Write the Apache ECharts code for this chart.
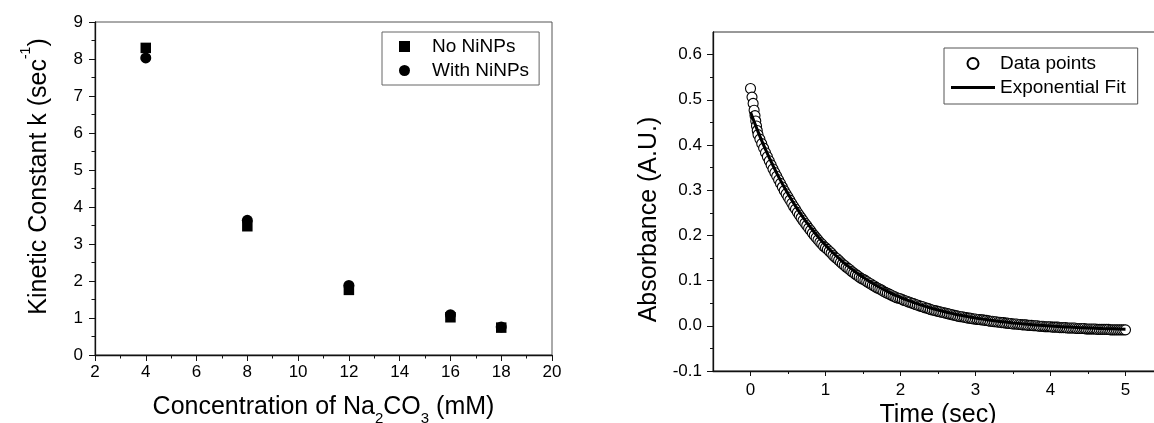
<!DOCTYPE html>
<html><head><meta charset="utf-8">
<script src="https://cdn.jsdelivr.net/npm/echarts@6/dist/echarts.min.js"></script>
<style>html,body{margin:0;padding:0;background:#fff}#c{width:1154px;height:423px}</style>
</head><body><div id="c"></div>
<script>
// ---- Left panel data ----
const concentration = [4, 8, 12, 16, 18];
const kNoNiNPs = [8.30, 3.48, 1.76, 1.02, 0.74];
const kWithNiNPs = [8.03, 3.64, 1.88, 1.09, 0.76];

// ---- Right panel data ----
const timePoints = [
 0,0.02,0.035,0.048,0.06,0.07,0.08,0.09, 0.1,0.125,0.15,0.175, 0.2,0.225,0.25,0.275, 0.3,0.325,0.35,0.375, 0.4,0.425,0.45,0.475,
 0.5,0.525,0.55,0.575, 0.6,0.625,0.65,0.675, 0.7,0.725,0.75,0.775, 0.8,0.825,0.85,0.875, 0.9,0.925,0.95,0.975,
 1.0,1.025,1.05,1.075, 1.1,1.125,1.15,1.175, 1.2,1.225,1.25,1.275, 1.3,1.325,1.35,1.375, 1.4,1.425,1.45,1.475,
 1.5,1.525,1.55,1.575, 1.6,1.625,1.65,1.675, 1.7,1.725,1.75,1.775, 1.8,1.825,1.85,1.875, 1.9,1.925,1.95,1.975,
 2.0,2.025,2.05,2.075, 2.1,2.125,2.15,2.175, 2.2,2.225,2.25,2.275, 2.3,2.325,2.35,2.375, 2.4,2.425,2.45,2.475,
 2.5,2.525,2.55,2.575, 2.6,2.625,2.65,2.675, 2.7,2.725,2.75,2.775, 2.8,2.825,2.85,2.875, 2.9,2.925,2.95,2.975,
 3.0,3.025,3.05,3.075, 3.1,3.125,3.15,3.175, 3.2,3.225,3.25,3.275, 3.3,3.325,3.35,3.375, 3.4,3.425,3.45,3.475,
 3.5,3.525,3.55,3.575, 3.6,3.625,3.65,3.675, 3.7,3.725,3.75,3.775, 3.8,3.825,3.85,3.875, 3.9,3.925,3.95,3.975,
 4.0,4.025,4.05,4.075, 4.1,4.125,4.15,4.175, 4.2,4.225,4.25,4.275, 4.3,4.325,4.35,4.375, 4.4,4.425,4.45,4.475,
 4.5,4.525,4.55,4.575, 4.6,4.625,4.65,4.675, 4.7,4.725,4.75,4.775, 4.8,4.825,4.85,4.875, 4.9,4.925,4.95,4.975,
 5.0
];
const absorbanceData = [
 0.525,0.506,0.492,0.477,0.465,0.453,0.442,0.432, 0.423,0.413,0.403,0.393, 0.383,0.374,0.365,0.356, 0.347,0.339,0.331,0.323, 0.315,0.307,0.299,0.292,
 0.285,0.278,0.271,0.264, 0.258,0.251,0.245,0.239, 0.233,0.227,0.222,0.216, 0.211,0.205,0.200,0.195, 0.190,0.185,0.181,0.176,
 0.173,0.169,0.165,0.161, 0.156,0.152,0.149,0.145, 0.141,0.137,0.134,0.130, 0.127,0.124,0.120,0.117, 0.114,0.111,0.108,0.105,
 0.103,0.101,0.098,0.095, 0.093,0.090,0.088,0.085, 0.083,0.081,0.079,0.076, 0.074,0.072,0.070,0.068, 0.066,0.064,0.062,0.061,
 0.060,0.058,0.056,0.055, 0.053,0.052,0.050,0.049, 0.047,0.046,0.044,0.043, 0.042,0.040,0.039,0.038, 0.036,0.035,0.034,0.033,
 0.032,0.031,0.030,0.029, 0.028,0.027,0.026,0.025, 0.024,0.023,0.022,0.021, 0.020,0.020,0.019,0.018, 0.017,0.017,0.016,0.015,
 0.015,0.014,0.014,0.013, 0.013,0.012,0.012,0.011, 0.010,0.010,0.009,0.009, 0.008,0.008,0.007,0.007, 0.006,0.006,0.005,0.005,
 0.004,0.004,0.004,0.003, 0.003,0.002,0.002,0.002, 0.001,0.001,0.001,0.000, 0.000,0.000,-0.001,-0.001, -0.001,-0.002,-0.002,-0.002,
 -0.002,-0.003,-0.003,-0.003, -0.003,-0.004,-0.004,-0.004, -0.004,-0.005,-0.005,-0.005, -0.005,-0.005,-0.006,-0.006, -0.006,-0.006,-0.006,-0.007,
 -0.007,-0.007,-0.007,-0.007, -0.007,-0.008,-0.008,-0.008, -0.008,-0.008,-0.008,-0.008, -0.009,-0.009,-0.009,-0.009, -0.009,-0.009,-0.009,-0.009,
 -0.009
];
const fitTime = [0,0.1,0.2,0.3,0.4,0.5,0.6,0.7,0.8,0.9,1.0,1.1,1.2,1.3,1.4,1.5,1.6,1.7,1.8,1.9,2.0,2.1,2.2,2.3,2.4,2.5,2.6,2.7,2.8,2.9,
 3.0,3.1,3.2,3.3,3.4,3.5,3.6,3.7,3.8,3.9,4.0,4.1,4.2,4.3,4.4,4.5,4.6,4.7,4.8,4.9,5.0];
const absorbanceFit = [0.4730,0.4297,0.3903,0.3544,0.3217,0.2919,0.2648,0.2401,0.2176,0.1971,0.1785,0.1615,0.1460,0.1319,0.1191,
 0.1074,0.0967,0.0870,0.0782,0.0701,0.0628,0.0561,0.0501,0.0445,0.0395,0.0349,0.0307,0.0269,0.0234,0.0203,0.0174,0.0148,0.0124,
 0.0102,0.0082,0.0064,0.0048,0.0033,0.0019,0.0007,-0.0005,-0.0015,-0.0024,-0.0033,-0.0041,-0.0048,-0.0054,-0.0060,-0.0065,-0.0070,-0.0075];

const timeMajorTicks = [0, 1, 2, 3, 4, 5];
const timeMinorTicks = [0.5, 1.5, 2.5, 3.5, 4.5];
const absMajorTicks = [-0.1, 0, 0.1, 0.2, 0.3, 0.4, 0.5, 0.6];
const absMinorTicks = [-0.05, 0.05, 0.15, 0.25, 0.35, 0.45, 0.55];

const FONT = "'Liberation Sans', Arial, sans-serif";
const AX = '#111';
const TXT = '#000';
const pairs = (xs, ys) => xs.map((x, i) => [x, ys[i]]);

const chart = echarts.init(document.getElementById('c'), null, {renderer: 'canvas'});
const baseAxis = {
  type: 'value',
  axisLine: {show: true, onZero: false, lineStyle: {color: AX, width: 1.3}},
  axisTick: {show: true, inside: false, length: 6, lineStyle: {color: AX, width: 1}},
  splitLine: {show: false},
  axisLabel: {fontSize: 17, color: TXT, fontFamily: FONT},
  nameMoveOverlap: false
};
const nameRichN = {fontSize: 25, fontFamily: FONT, color: TXT, lineHeight: 30, verticalAlign: 'middle'};
const option = {
  backgroundColor: '#ffffff',
  animation: false,
  textStyle: {fontFamily: FONT},
  grid: [
    {left: 95, top: 22, width: 457, height: 333, show: true, borderColor: '#555', borderWidth: 1, containLabel: false, outerBoundsMode: 'none'},
    {left: 713, top: 32, width: 450, height: 339, show: true, borderColor: '#333', borderWidth: 1, containLabel: false, outerBoundsMode: 'none'}
  ],
  xAxis: [
    Object.assign({}, baseAxis, {
      gridIndex: 0, min: 2, max: 20, interval: 2, position: 'bottom',
      minorTick: {show: true, splitNumber: 2, length: 3.5, lineStyle: {color: AX}},
      axisLabel: Object.assign({}, baseAxis.axisLabel, {margin: 9}),
      name: '{n|Concentration of Na}{s|2}{n|CO}{s|3}{n| (mM)}',
      nameLocation: 'middle', nameGap: 37,
      nameTextStyle: {fontFamily: FONT, color: TXT, rich: {
        n: nameRichN,
        s: {fontSize: 15, fontFamily: FONT, color: TXT, lineHeight: 15, verticalAlign: 'middle', padding: [24, 0, 0, 0]}
      }}
    }),
    Object.assign({}, baseAxis, {
      gridIndex: 1, min: -0.5, max: 5.5, position: 'bottom',
      axisTick: {show: true, inside: false, length: 5, customValues: timeMajorTicks, lineStyle: {color: AX}},
      axisLabel: Object.assign({}, baseAxis.axisLabel, {margin: 11, customValues: timeMajorTicks, formatter: v => String(v)}),
      name: 'Time (sec)', nameLocation: 'middle', nameGap: 32,
      nameTextStyle: {fontSize: 25, color: TXT, fontFamily: FONT}
    }),
    {
      type: 'value', gridIndex: 1, min: -0.5, max: 5.5, position: 'bottom',
      axisLine: {show: false, onZero: false},
      axisTick: {show: true, inside: false, length: 3, customValues: timeMinorTicks, lineStyle: {color: AX}},
      axisLabel: {show: false}, splitLine: {show: false}
    }
  ],
  yAxis: [
    Object.assign({}, baseAxis, {
      gridIndex: 0, min: 0, max: 9, interval: 1, position: 'left',
      minorTick: {show: true, splitNumber: 2, length: 3.5, lineStyle: {color: AX}},
      axisLabel: Object.assign({}, baseAxis.axisLabel, {margin: 12}),
      name: '{n|Kinetic Constant k (sec}{s|-1}{n|)}',
      nameLocation: 'middle', nameGap: 41,
      nameTextStyle: {fontFamily: FONT, color: TXT, padding: [0, 0, 0, 24], rich: {
        n: nameRichN,
        s: {fontSize: 14, fontFamily: FONT, color: TXT, lineHeight: 14, verticalAlign: 'middle', padding: [0, 0, 26, 0]}
      }}
    }),
    Object.assign({}, baseAxis, {
      gridIndex: 1, min: -0.1, max: 0.65, position: 'left',
      axisTick: {show: true, inside: false, length: 6, customValues: absMajorTicks, lineStyle: {color: AX}},
      axisLabel: Object.assign({}, baseAxis.axisLabel, {margin: 11, customValues: absMajorTicks, formatter: v => v.toFixed(1)}),
      name: 'Absorbance (A.U.)', nameLocation: 'middle', nameGap: 51,
      nameTextStyle: {fontSize: 25, color: TXT, fontFamily: FONT, padding: [0, 36, 0, 0]}
    }),
    {
      type: 'value', gridIndex: 1, min: -0.1, max: 0.65, position: 'left',
      axisLine: {show: false, onZero: false},
      axisTick: {show: true, inside: false, length: 3, customValues: absMinorTicks, lineStyle: {color: AX}},
      axisLabel: {show: false}, splitLine: {show: false}
    }
  ],
  legend: [
    {
      data: [{name: 'No NiNPs', icon: 'rect'}, {name: 'With NiNPs', icon: 'circle'}],
      orient: 'vertical', left: 382, top: 32, itemWidth: 11, itemHeight: 11, itemGap: 5,
      padding: [5, 10, 5, 17], borderColor: '#666', borderWidth: 1, selectedMode: false,
      itemStyle: {opacity: 1},
      textStyle: {fontSize: 19, color: TXT, fontFamily: FONT, lineHeight: 18, padding: [0, 0, 0, 17]}
    },
    {
      data: [{name: 'Data points', icon: 'circle'},
             {name: 'Exponential Fit', icon: 'path://M0,0L44,0L44,3.2L0,3.2Z'}],
      orient: 'vertical', left: 944, top: 48, itemWidth: 44, itemHeight: 11, itemGap: 5,
      padding: [6, 12, 7, 7], borderColor: '#555', borderWidth: 1, selectedMode: false,
      itemStyle: {opacity: 1},
      textStyle: {fontSize: 19, color: TXT, fontFamily: FONT, lineHeight: 18}
    }
  ],
  series: [
    {
      name: 'No NiNPs', type: 'scatter', xAxisIndex: 0, yAxisIndex: 0,
      symbol: 'rect', symbolSize: 10.5, itemStyle: {color: '#000', opacity: 1},
      data: pairs(concentration, kNoNiNPs)
    },
    {
      name: 'With NiNPs', type: 'scatter', xAxisIndex: 0, yAxisIndex: 0,
      symbol: 'circle', symbolSize: 11, itemStyle: {color: '#000', opacity: 1},
      data: pairs(concentration, kWithNiNPs)
    },
    {
      name: 'Data points', type: 'scatter', xAxisIndex: 1, yAxisIndex: 1,
      symbol: 'circle', symbolSize: 10, z: 2,
      itemStyle: {color: '#ffffff', borderColor: '#000', borderWidth: 1.1, opacity: 1},
      data: pairs(timePoints, absorbanceData)
    },
    {
      name: 'Exponential Fit', type: 'line', xAxisIndex: 1, yAxisIndex: 1,
      symbol: 'none', showSymbol: false, smooth: true, z: 3,
      lineStyle: {color: '#000', width: 3},
      itemStyle: {color: '#000'},
      data: pairs(fitTime, absorbanceFit)
    }
  ]
};
chart.setOption(option);
</script>
</body></html>
